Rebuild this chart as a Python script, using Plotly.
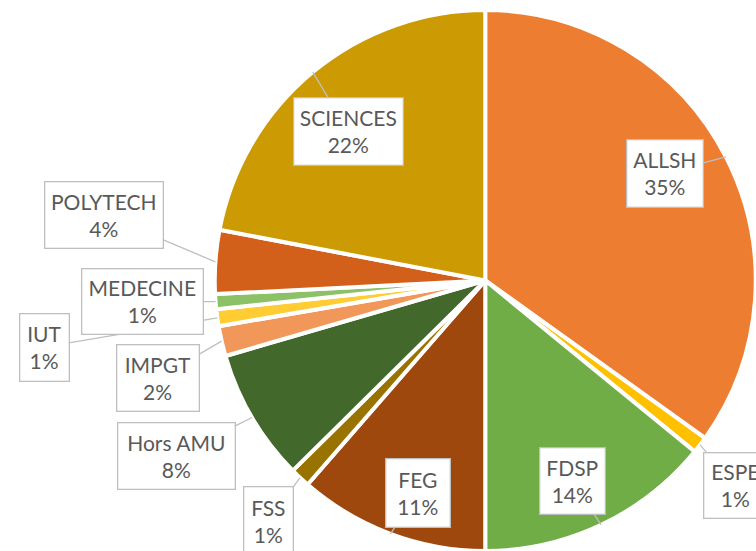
import math
import plotly.graph_objects as go

# ---- data ----
categories = ["ALLSH", "ESPE", "FDSP", "FEG", "FSS", "Hors AMU", "IMPGT",
              "IUT", "MEDECINE", "POLYTECH", "SCIENCES"]
shares = [34.9, 1.0, 14.1, 11.4, 1.2, 7.9, 1.8, 1.0, 0.9, 3.8, 22.0]
colors = ["#ED7D31", "#FFC000", "#70AD47", "#9E480E", "#997300", "#43682B",
          "#F1975A", "#FFCD33", "#8CC168", "#D2601A", "#CC9A03"]

# ---- label callout layout (pixel centre and box size) ----
label_boxes = {
    "ALLSH": (665, 173, 77, 68),
    "ESPE": (735, 485, 64, 66),
    "FDSP": (572, 481, 66, 67),
    "FEG": (418, 493, 65, 69),
    "FSS": (268, 521, 50, 70),
    "Hors AMU": (176, 456, 118, 67),
    "IMPGT": (158, 378, 83, 67),
    "IUT": (44, 347, 50, 68),
    "MEDECINE": (142, 301, 122, 66),
    "POLYTECH": (104, 215, 119, 67),
    "SCIENCES": (348, 131, 110, 68),
}

W, H = 756, 551
dom_x = [0.2837, 1.0]
dom_y = [0.0, 541 / 551]

fig = go.Figure(go.Pie(
    labels=categories, values=shares, sort=False, direction="clockwise",
    rotation=0, textinfo="none", hoverinfo="label+percent",
    marker=dict(colors=colors, line=dict(color="white", width=4)),
    domain=dict(x=dom_x, y=dom_y), showlegend=False,
))

# pie geometry in pixels (matches plotly's layout of the domain)
pw = (dom_x[1] - dom_x[0]) * W
ph = (dom_y[1] - dom_y[0]) * H
r = min(pw, ph) / 2
cx = (dom_x[0] + dom_x[1]) / 2 * W
cy = H - (dom_y[0] + dom_y[1]) / 2 * H

total = sum(shares)
cum = 0.0
annotations = []
for name, v in zip(categories, shares):
    mid = (cum + v / 2) / total * 2 * math.pi
    cum += v
    tx = cx + r * math.sin(mid)
    ty = cy - r * math.cos(mid)
    bx, by, bw, bh = label_boxes[name]
    pct = round(v / total * 100)
    annotations.append(dict(
        xref="paper", yref="paper", x=tx / W, y=1 - ty / H,
        ax=bx - tx, ay=by - ty, axref="pixel", ayref="pixel",
        text=f"{name}<br>{pct}%", showarrow=True, arrowhead=0,
        arrowwidth=1.3, arrowcolor="#BFBFBF", standoff=0, startstandoff=0,
        bgcolor="white", bordercolor="#BFBFBF", borderwidth=1.3, borderpad=0,
        width=bw - 2, height=bh - 2, align="center",
        xanchor="center", yanchor="middle",
        font=dict(family="Lato, sans-serif", size=21, color="#595959"),
    ))

fig.update_layout(
    width=W, height=H, margin=dict(l=0, r=0, t=0, b=0),
    paper_bgcolor="white", plot_bgcolor="white",
    annotations=annotations,
)

fig.write_html("out.html")
